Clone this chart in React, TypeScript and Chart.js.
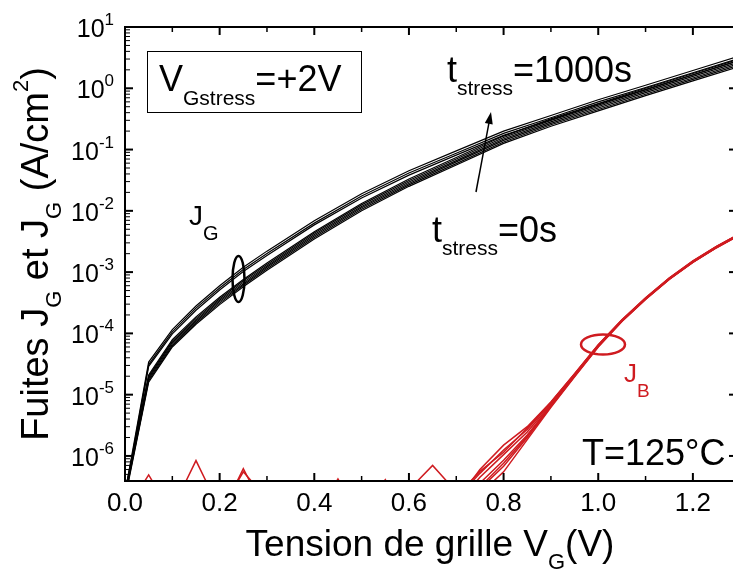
import React, { useEffect, useRef } from 'react';
import { Chart, registerables } from 'chart.js';

Chart.register(...registerables);

// ---------------- data ----------------
// Gate voltage grid for the J_G curves (V)
const VG_JG = [0, 0.05, 0.1, 0.15, 0.2, 0.25, 0.3, 0.4, 0.5, 0.6, 0.7, 0.8, 0.9, 1.0, 1.1, 1.2, 1.3];

// J_G (A/cm2), from t_stress = 0 s (lowest) up to t_stress = 1000 s (highest)
const JG_t1 = [2.0e-7, 1.6e-5, 6.0e-5, 1.41e-4, 2.95e-4, 5.75e-4, 1.07e-3, 3.47e-3, 1.0e-2, 2.51e-2, 5.6e-2, 0.126, 0.24, 0.427, 0.76, 1.32, 2.29];
const JG_t2 = [2.1e-7, 1.7e-5, 6.3e-5, 1.49e-4, 3.12e-4, 6.1e-4, 1.13e-3, 3.67e-3, 1.06e-2, 2.65e-2, 5.9e-2, 0.133, 0.254, 0.451, 0.8, 1.4, 2.42];
const JG_t3 = [2.2e-7, 1.8e-5, 6.7e-5, 1.58e-4, 3.3e-4, 6.4e-4, 1.2e-3, 3.88e-3, 1.12e-2, 2.8e-2, 6.3e-2, 0.141, 0.268, 0.477, 0.85, 1.47, 2.56];
const JG_t4 = [2.3e-7, 1.9e-5, 7.1e-5, 1.66e-4, 3.48e-4, 6.8e-4, 1.26e-3, 4.1e-3, 1.18e-2, 2.96e-2, 6.6e-2, 0.149, 0.283, 0.504, 0.9, 1.56, 2.7];
const JG_t5 = [2.4e-7, 2.0e-5, 7.5e-5, 1.76e-4, 3.68e-4, 7.2e-4, 1.33e-3, 4.33e-3, 1.25e-2, 3.13e-2, 7.0e-2, 0.157, 0.3, 0.532, 0.95, 1.65, 2.86];
const JG_t6 = [2.6e-7, 2.1e-5, 7.9e-5, 1.86e-4, 3.89e-4, 7.6e-4, 1.41e-3, 4.57e-3, 1.32e-2, 3.31e-2, 7.4e-2, 0.166, 0.316, 0.563, 1.0, 1.74, 3.02];
const JG_t7 = [2.1e-7, 2.9e-5, 9.8e-5, 2.38e-4, 5.1e-4, 1.02e-3, 1.87e-3, 5.9e-3, 1.62e-2, 3.83e-2, 8.1e-2, 0.17, 0.306, 0.553, 0.95, 1.66, 2.88];
const JG_t8 = [2.3e-7, 3.1e-5, 1.06e-4, 2.58e-4, 5.5e-4, 1.1e-3, 2.02e-3, 6.3e-3, 1.75e-2, 4.14e-2, 8.7e-2, 0.184, 0.331, 0.6, 1.03, 1.79, 3.12];
const JG_t9 = [2.5e-7, 3.4e-5, 1.15e-4, 2.8e-4, 6.0e-4, 1.2e-3, 2.2e-3, 6.9e-3, 1.9e-2, 4.5e-2, 9.5e-2, 0.2, 0.36, 0.65, 1.12, 1.95, 3.39];

// Gate voltage grid for the J_B curves (V)
const VG_JB = [0, 0.05, 0.1, 0.15, 0.2, 0.25, 0.3, 0.35, 0.4, 0.45, 0.5, 0.55, 0.6, 0.65, 0.7, 0.75, 0.8, 0.85, 0.9, 0.95, 1.0, 1.05, 1.1, 1.15, 1.2, 1.25, 1.3];

// J_B (A/cm2)
const JB_1 = [1.0e-7, 1.2e-7, 1.35e-7, 8.4e-7, 1.35e-7, 1.1e-7, 1.2e-7, 1.0e-7, 1.3e-7, 1.1e-7, 1.2e-7, 1.0e-7, 1.4e-7, 1.2e-7, 1.8e-7, 6.0e-7, 1.5e-6, 3.0e-6, 7.6e-6, 2.2e-5, 6.5e-5, 1.66e-4, 3.8e-4, 8.0e-4, 1.52e-3, 2.63e-3, 4.27e-3];
const JB_2 = [1.1e-7, 1.0e-7, 1.2e-7, 1.1e-7, 1.0e-7, 6.2e-7, 1.1e-7, 1.2e-7, 1.0e-7, 1.3e-7, 1.1e-7, 1.2e-7, 1.0e-7, 1.1e-7, 2.0e-7, 5.2e-7, 1.25e-6, 2.7e-6, 7.3e-6, 2.15e-5, 6.4e-5, 1.64e-4, 3.75e-4, 7.9e-4, 1.5e-3, 2.6e-3, 4.22e-3];
const JB_3 = [1.2e-7, 4.9e-7, 1.1e-7, 1.0e-7, 1.2e-7, 5.5e-7, 2.0e-7, 1.1e-7, 1.2e-7, 1.0e-7, 1.2e-7, 1.1e-7, 1.3e-7, 1.0e-7, 1.6e-7, 4.5e-7, 1.05e-6, 2.45e-6, 7.0e-6, 2.1e-5, 6.3e-5, 1.62e-4, 3.7e-4, 7.8e-4, 1.48e-3, 2.57e-3, 4.17e-3];
const JB_4 = [1.0e-7, 1.1e-7, 1.0e-7, 1.2e-7, 1.1e-7, 1.0e-7, 1.2e-7, 1.1e-7, 1.0e-7, 1.2e-7, 1.1e-7, 1.3e-7, 2.8e-7, 7.0e-7, 2.6e-7, 3.6e-7, 8.5e-7, 2.2e-6, 6.7e-6, 2.05e-5, 6.2e-5, 1.6e-4, 3.66e-4, 7.7e-4, 1.46e-3, 2.54e-3, 4.12e-3];
const JB_5 = [1.1e-7, 1.2e-7, 1.0e-7, 1.1e-7, 1.2e-7, 1.0e-7, 1.1e-7, 1.2e-7, 1.0e-7, 4.2e-7, 1.0e-7, 1.2e-7, 1.1e-7, 1.0e-7, 1.5e-7, 2.9e-7, 6.8e-7, 2.0e-6, 6.4e-6, 2.0e-5, 6.1e-5, 1.58e-4, 3.62e-4, 7.65e-4, 1.45e-3, 2.52e-3, 4.1e-3];
const JB_6 = [1.2e-7, 1.0e-7, 1.1e-7, 1.0e-7, 1.2e-7, 1.1e-7, 1.0e-7, 1.1e-7, 1.2e-7, 1.0e-7, 1.1e-7, 4.1e-7, 1.0e-7, 1.2e-7, 1.3e-7, 2.4e-7, 5.5e-7, 1.85e-6, 6.2e-6, 1.95e-5, 6.0e-5, 1.56e-4, 3.58e-4, 7.6e-4, 1.44e-3, 2.5e-3, 4.07e-3];
const JB_7 = [1.0e-7, 1.1e-7, 1.2e-7, 1.0e-7, 1.1e-7, 1.2e-7, 1.0e-7, 1.2e-7, 1.1e-7, 1.0e-7, 1.2e-7, 1.0e-7, 1.1e-7, 1.2e-7, 2.2e-7, 5.6e-7, 1.15e-6, 2.85e-6, 7.5e-6, 2.18e-5, 6.45e-5, 1.65e-4, 3.78e-4, 7.95e-4, 1.51e-3, 2.62e-3, 4.25e-3];
const JB_8 = [1.1e-7, 1.0e-7, 1.2e-7, 1.1e-7, 1.0e-7, 1.2e-7, 1.1e-7, 1.0e-7, 1.1e-7, 1.2e-7, 1.0e-7, 1.1e-7, 1.2e-7, 1.0e-7, 1.4e-7, 3.1e-7, 7.6e-7, 2.1e-6, 6.6e-6, 2.02e-5, 6.15e-5, 1.59e-4, 3.64e-4, 7.7e-4, 1.46e-3, 2.53e-3, 4.11e-3];

// axes
const X_MIN = 0;
const X_MAX = 1.289;
const Y_MIN = 3.9e-7;
const Y_MAX = 10;
const X_TICK_VALUES = [0, 0.2, 0.4, 0.6, 0.8, 1.0, 1.2];
const X_TICK_LABELS = ['0.0', '0.2', '0.4', '0.6', '0.8', '1.0', '1.2'];
const X_MINOR_VALUES = [0.1, 0.3, 0.5, 0.7, 0.9, 1.1];
const Y_DECADES = [1e-6, 1e-5, 1e-4, 1e-3, 1e-2, 1e-1, 1, 10];
const Y_EXPONENTS = ['-6', '-5', '-4', '-3', '-2', '-1', '0', '1'];
const Y_MINOR_MANTISSAS = [2, 3, 4, 5, 6, 7, 8, 9];

// ---------------- styles ----------------
const FONT = '"Liberation Sans", Arial, Helvetica, sans-serif';
const BLACK = '#000000';
const RED = '#cf1b20';

const f = (size: number) => `${size}px ${FONT}`;

type Part = [string, number, number];

function drawRich(ctx: CanvasRenderingContext2D, x: number, y: number, parts: Part[], align: 'left' | 'center' | 'right' = 'left') {
  let total = 0;
  for (const p of parts) {
    ctx.font = f(p[1]);
    total += ctx.measureText(p[0]).width;
  }
  let cx = align === 'center' ? x - total / 2 : align === 'right' ? x - total : x;
  ctx.textAlign = 'left';
  ctx.textBaseline = 'alphabetic';
  for (const p of parts) {
    ctx.font = f(p[1]);
    ctx.fillText(p[0], cx, y + p[2]);
    cx += ctx.measureText(p[0]).width;
  }
}

function line(ctx: CanvasRenderingContext2D, x1: number, y1: number, x2: number, y2: number) {
  ctx.beginPath();
  ctx.moveTo(x1, y1);
  ctx.lineTo(x2, y2);
  ctx.stroke();
}

const framePlugin = {
  id: 'frameAndNotes',
  afterDraw(chart: any) {
    const { ctx, chartArea: a, scales } = chart;
    const xs = scales.x;
    const ys = scales.y;
    ctx.save();
    ctx.strokeStyle = BLACK;
    ctx.fillStyle = BLACK;

    // frame
    ctx.lineWidth = 2;
    ctx.strokeRect(a.left, a.top, a.right - a.left, a.bottom - a.top);

    // x ticks (bottom & top, inward)
    ctx.lineWidth = 2;
    for (const v of X_TICK_VALUES) {
      const p = xs.getPixelForValue(v);
      line(ctx, p, a.bottom, p, a.bottom - 8);
      line(ctx, p, a.top, p, a.top + 8);
    }
    ctx.lineWidth = 1.5;
    for (const v of X_MINOR_VALUES) {
      const p = xs.getPixelForValue(v);
      line(ctx, p, a.bottom, p, a.bottom - 5);
      line(ctx, p, a.top, p, a.top + 5);
    }

    // y ticks
    for (const d of Y_DECADES) {
      const p = ys.getPixelForValue(d);
      if (p >= a.top - 0.5 && p <= a.bottom + 0.5) {
        ctx.lineWidth = 2;
        line(ctx, a.left, p, a.left + 8, p);
        line(ctx, a.right, p, a.right - 6, p);
      }
      ctx.lineWidth = 1;
      for (const m of Y_MINOR_MANTISSAS) {
        const v = (d / 10) * m;
        const q = ys.getPixelForValue(v);
        if (q >= a.top && q <= a.bottom) line(ctx, a.left, q, a.left + 5, q);
      }
    }

    // y tick labels 10^n
    ctx.fillStyle = BLACK;
    Y_DECADES.forEach((d, i) => {
      const p = ys.getPixelForValue(d);
      drawRich(ctx, a.left - 11, p + 10, [['10', 25, 0], [Y_EXPONENTS[i], 17, -12]], 'right');
    });

    // axis titles
    drawRich(ctx, (a.left + a.right) / 2, 556, [['Tension de grille V', 37, 0], ['G', 22, 13], ['(V)', 37, 0]], 'center');
    ctx.save();
    ctx.translate(48, (a.top + a.bottom) / 2);
    ctx.rotate(-Math.PI / 2);
    drawRich(ctx, 0, 0, [['Fuites J', 38, 0], ['G', 22, 13], [' et J', 38, 0], ['G', 22, 13], [' (A/cm', 38, 0], ['2', 22, -20], [')', 38, 0]], 'center');
    ctx.restore();

    // V_Gstress box
    ctx.lineWidth = 1;
    ctx.strokeRect(147.5, 51.5, 214, 61);
    drawRich(ctx, 159, 91, [['V', 36, 0], ['Gstress', 21, 14], ['=+2V', 36, 0]]);

    // t_stress labels
    drawRich(ctx, 447, 82, [['t', 36, 0], ['stress', 21, 13], ['=1000s', 36, 0]]);
    drawRich(ctx, 432, 242, [['t', 36, 0], ['stress', 21, 13], ['=0s', 36, 0]]);

    // arrow
    const ax1 = 476, ay1 = 192, ax2 = 491, ay2 = 112;
    const ang = Math.atan2(ay2 - ay1, ax2 - ax1);
    ctx.lineWidth = 1.5;
    line(ctx, ax1, ay1, ax2 - 9 * Math.cos(ang), ay2 - 9 * Math.sin(ang));
    ctx.beginPath();
    ctx.moveTo(ax2, ay2);
    ctx.lineTo(ax2 - 12 * Math.cos(ang) + 4 * Math.sin(ang), ay2 - 12 * Math.sin(ang) - 4 * Math.cos(ang));
    ctx.lineTo(ax2 - 12 * Math.cos(ang) - 4 * Math.sin(ang), ay2 - 12 * Math.sin(ang) + 4 * Math.cos(ang));
    ctx.closePath();
    ctx.fill();

    // J_G label + ellipse
    drawRich(ctx, 189, 225, [['J', 28, 0], ['G', 20, 15]]);
    ctx.lineWidth = 2.5;
    ctx.beginPath();
    ctx.ellipse(238.5, 279, 6, 23, 0, 0, Math.PI * 2);
    ctx.stroke();

    // J_B label + ellipse
    ctx.fillStyle = RED;
    ctx.strokeStyle = RED;
    drawRich(ctx, 624, 382, [['J', 26, 0], ['B', 19, 15]]);
    ctx.beginPath();
    ctx.ellipse(603, 344.5, 22, 10, 0, 0, Math.PI * 2);
    ctx.stroke();

    // temperature
    ctx.fillStyle = BLACK;
    drawRich(ctx, 582, 465, [['T=125°C', 36, 0]]);

    ctx.restore();
  },
};

function toPoints(xs: number[], ys: number[]) {
  return xs.map((x, i) => ({ x, y: ys[i] }));
}

const JG_SERIES = [JG_t1, JG_t2, JG_t3, JG_t4, JG_t5, JG_t6, JG_t7, JG_t8, JG_t9];
const JB_SERIES = [JB_1, JB_2, JB_3, JB_4, JB_5, JB_6, JB_7, JB_8];

export default function App() {
  const ref = useRef<HTMLCanvasElement>(null);

  useEffect(() => {
    document.body.style.margin = '0';
    const datasets: any[] = [];
    JG_SERIES.forEach((s, i) =>
      datasets.push({
        label: `J_G ${i + 1}`,
        data: toPoints(VG_JG, s),
        borderColor: BLACK,
        borderWidth: 1.2,
        pointRadius: 0,
        tension: 0,
        fill: false,
      })
    );
    JB_SERIES.forEach((s, i) =>
      datasets.push({
        label: `J_B ${i + 1}`,
        data: toPoints(VG_JB, s),
        borderColor: RED,
        borderWidth: 1.5,
        pointRadius: 0,
        tension: 0,
        fill: false,
      })
    );

    const chart = new Chart(ref.current as HTMLCanvasElement, {
      type: 'line',
      data: { datasets },
      options: {
        animation: false,
        responsive: false,
        devicePixelRatio: 1,
        layout: { padding: { left: 0, right: 5, top: 27, bottom: 0 } },
        plugins: { legend: { display: false }, tooltip: { enabled: false } },
        scales: {
          x: {
            type: 'linear',
            min: X_MIN,
            max: X_MAX,
            grid: { display: false, drawTicks: false },
            border: { display: false },
            afterFit: (s: any) => {
              s.height = 88;
            },
            ticks: {
              stepSize: 0.1,
              includeBounds: false,
              autoSkip: false,
              maxRotation: 0,
              padding: 7,
              color: BLACK,
              font: { family: FONT, size: 26 },
              callback: (v: any) => {
                const i = X_TICK_VALUES.findIndex((t) => Math.abs(t - Number(v)) < 1e-6);
                return i >= 0 ? X_TICK_LABELS[i] : '';
              },
            },
          },
          y: {
            type: 'logarithmic',
            min: Y_MIN,
            max: Y_MAX,
            grid: { display: false, drawTicks: false },
            border: { display: false },
            ticks: { display: false },
            afterFit: (s: any) => {
              s.width = 125;
            },
          },
        },
      },
      plugins: [framePlugin],
    } as any);
    return () => chart.destroy();
  }, []);

  return (
    <div style={{ width: 733, height: 569, overflow: 'hidden', background: '#ffffff' }}>
      <canvas ref={ref} width={740} height={569} style={{ display: 'block' }} />
    </div>
  );
}
